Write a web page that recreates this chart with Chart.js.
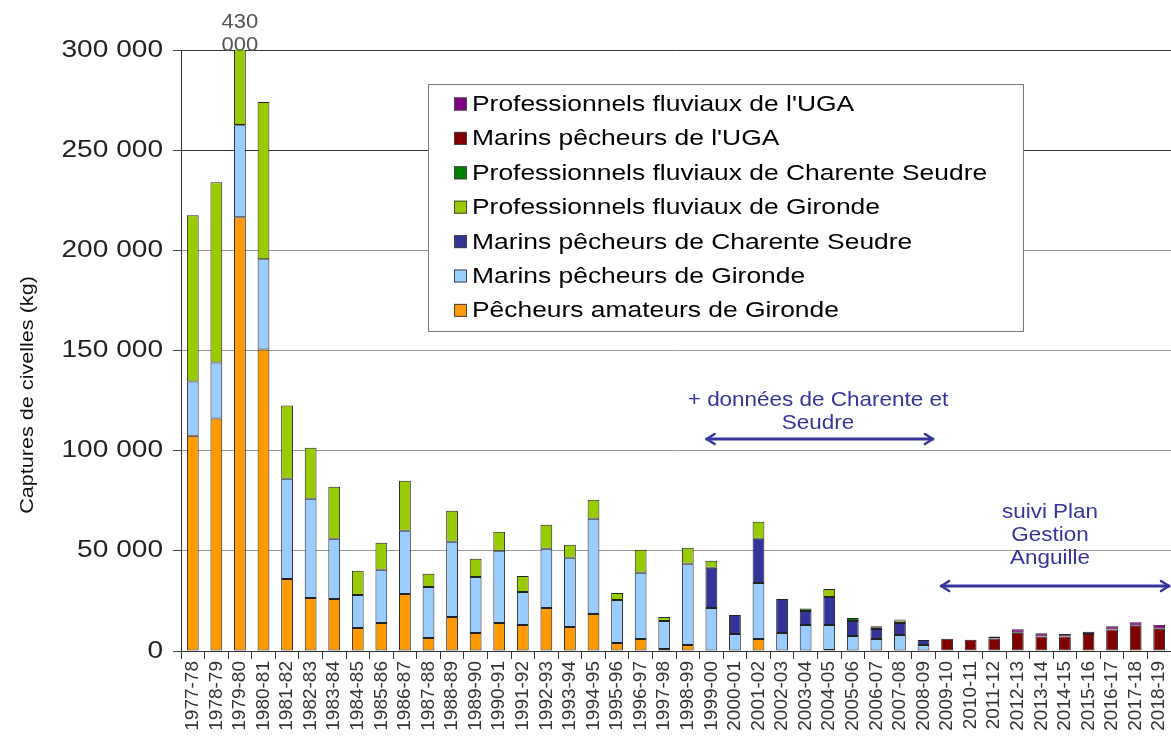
<!DOCTYPE html>
<html>
<head>
<meta charset="utf-8">
<script src="https://cdn.jsdelivr.net/npm/chart.js@4.4.0/dist/chart.umd.min.js"></script>
<style>
  html, body { margin: 0; padding: 0; background: #fff; }
  #wrap { width: 1171px; height: 742px; }
</style>
</head>
<body>
<div id="wrap"><canvas id="civelles" width="1171" height="742"></canvas></div>
<script>
// captures de civelles par saison (kg), empilées par catégorie de pêcheurs
const saisons = ['1977-78','1978-79','1979-80','1980-81','1981-82','1982-83','1983-84','1984-85','1985-86','1986-87',
  '1987-88','1988-89','1989-90','1990-91','1991-92','1992-93','1993-94','1994-95','1995-96','1996-97',
  '1997-98','1998-99','1999-00','2000-01','2001-02','2002-03','2003-04','2004-05','2005-06','2006-07',
  '2007-08','2008-09','2009-10','2010-11','2011-12','2012-13','2013-14','2014-15','2015-16','2016-17',
  '2017-18','2018-19'];

const amateursGironde = [107500,116000,216500,150500,36000,26500,26000,11500,14000,28500,
  6500,17000,9000,14000,13000,21500,12000,18500,4000,6000,
  1000,3000,0,0,6000,0,0,500,0,0,
  0,0,0,0,0,0,0,0,0,0,0,0];
const marinsGironde = [27000,28000,46000,45000,50000,49500,30000,16500,26500,31500,
  25500,37500,28000,36000,16500,29500,34500,47500,21500,33000,
  14000,40500,21500,8500,28000,9000,13000,12500,7500,6000,
  8000,3000,0,0,0,0,0,0,0,0,0,0];
const marinsCharente = [0,0,0,0,0,0,0,0,0,0,
  0,0,0,0,0,0,0,0,0,0,
  0,0,20000,9500,22000,17000,7000,14000,7500,5000,
  6000,2500,0,0,0,0,0,0,0,0,0,0];
const fluviauxGironde = [83000,90000,167500,78500,36500,25500,26000,12000,13500,25000,
  6500,15500,9000,9500,8000,12000,6500,9500,3500,11500,
  2000,8000,3500,0,8500,0,0,4000,0,800,
  1200,0,0,0,0,0,0,0,0,0,0,0];
const fluviauxCharente = [0,0,0,0,0,0,0,0,0,0,
  0,0,0,0,0,0,0,0,0,0,
  0,0,0,0,0,0,1200,0,1500,500,
  500,0,0,0,0,0,0,0,0,0,0,0];
const marinsUGA = [0,0,0,0,0,0,0,0,0,0,
  0,0,0,0,0,0,0,0,0,0,
  0,0,0,0,0,0,0,0,0,0,
  0,0,6100,5600,6300,9100,7300,7200,8500,10700,12600,11100];
const fluviauxUGA = [0,0,0,0,0,0,0,0,0,0,
  0,0,0,0,0,0,0,0,0,0,
  0,0,0,0,0,0,0,0,0,0,
  0,0,0,0,1000,1700,1500,1300,1100,1600,1700,2000];

const yMax = 300000;
const yStep = 50000;

const FONT = '"Liberation Sans", Arial, sans-serif';
const BLEU_TEXTE = '#34349c';

// zéro -> pas de segment
const seg = arr => arr.map(v => (v > 0 ? v : null));

const series = [
  { label: 'Pêcheurs amateurs de Gironde', data: amateursGironde, color: '#ff9900' },
  { label: 'Marins pêcheurs de Gironde', data: marinsGironde, color: '#99ccff' },
  { label: 'Marins pêcheurs de Charente Seudre', data: marinsCharente, color: '#333399' },
  { label: 'Professionnels fluviaux de Gironde', data: fluviauxGironde, color: '#99cc00' },
  { label: 'Professionnels fluviaux de Charente Seudre', data: fluviauxCharente, color: '#008000' },
  { label: "Marins pêcheurs de l'UGA", data: marinsUGA, color: '#800000' },
  { label: "Professionnels fluviaux de l'UGA", data: fluviauxUGA, color: '#800080' }
];

function espaceMilliers(v) {
  return String(v).replace(/\B(?=(\d{3})+(?!\d))/g, ' ');
}

// texte un peu élargi dans le sens de lecture
function texteLarge(ctx, txt, x, y, etirement, align) {
  ctx.save();
  ctx.translate(x, y);
  ctx.scale(etirement, 1);
  ctx.textAlign = align;
  ctx.fillText(txt, 0, 0);
  ctx.restore();
}

function fleche(ctx, x1, x2, y) {
  ctx.save();
  ctx.strokeStyle = BLEU_TEXTE;
  ctx.lineWidth = 3;
  ctx.lineCap = 'round';
  ctx.lineJoin = 'round';
  ctx.beginPath();
  ctx.moveTo(x1, y);
  ctx.lineTo(x2, y);
  ctx.stroke();
  ctx.lineWidth = 2.5;
  ctx.beginPath();
  ctx.moveTo(x1 + 8, y - 5);
  ctx.lineTo(x1, y);
  ctx.lineTo(x1 + 8, y + 5);
  ctx.moveTo(x2 - 8, y - 5);
  ctx.lineTo(x2, y);
  ctx.lineTo(x2 - 8, y + 5);
  ctx.stroke();
  ctx.restore();
}

const habillage = {
  id: 'habillage',
  afterDraw(chart) {
    const ctx = chart.ctx;
    const x = chart.scales.x;
    const y = chart.scales.y;
    const area = chart.chartArea;

    // graduations de l'axe vertical
    ctx.save();
    ctx.font = '24px ' + FONT;
    ctx.fillStyle = '#222';
    ctx.textBaseline = 'middle';
    y.ticks.forEach(t => {
      texteLarge(ctx, espaceMilliers(t.value), 163, y.getPixelForValue(t.value), 1.17, 'right');
    });
    ctx.restore();

    // titre de l'axe vertical
    ctx.save();
    ctx.translate(28, 395);
    ctx.rotate(-Math.PI / 2);
    ctx.font = '18px ' + FONT;
    ctx.fillStyle = '#111';
    ctx.textBaseline = 'middle';
    texteLarge(ctx, 'Captures de civelles (kg)', 0, 0, 1.2, 'center');
    ctx.restore();

    // valeur réelle de la barre qui dépasse l'échelle
    const iPic = 2;
    let total = 0;
    series.forEach(s => { total += s.data[iPic]; });
    const txt = espaceMilliers(total).split(' ');
    ctx.save();
    ctx.font = '20px ' + FONT;
    ctx.fillStyle = '#555';
    ctx.textBaseline = 'middle';
    texteLarge(ctx, txt[0], x.getPixelForValue(iPic), 22, 1.1, 'center');
    texteLarge(ctx, txt[1], x.getPixelForValue(iPic), 45, 1.1, 'center');
    ctx.restore();

    // légende encadrée
    const lx = 428, ly = 84, lw = 595, lh = 247;
    ctx.save();
    ctx.fillStyle = '#fff';
    ctx.fillRect(lx, ly, lw, lh);
    ctx.strokeStyle = '#777';
    ctx.lineWidth = 1;
    ctx.strokeRect(lx + 0.5, ly + 0.5, lw, lh);
    ctx.font = '22px ' + FONT;
    ctx.textBaseline = 'middle';
    const ordre = series.slice().reverse();
    ordre.forEach((s, k) => {
      const cy = 104 + k * 34.4;
      ctx.fillStyle = s.color;
      ctx.fillRect(454, cy - 6.5, 13, 13);
      ctx.strokeStyle = '#444';
      ctx.strokeRect(454.5, cy - 6, 12, 12);
      ctx.fillStyle = '#000';
      texteLarge(ctx, s.label, 472, cy + 1, 1.2, 'left');
    });
    ctx.restore();

    // annotations de période
    ctx.save();
    ctx.font = '21px ' + FONT;
    ctx.fillStyle = BLEU_TEXTE;
    ctx.textBaseline = 'middle';
    texteLarge(ctx, '+ données de Charente et', 818, 400, 1.07, 'center');
    texteLarge(ctx, 'Seudre', 818, 423, 1.07, 'center');
    texteLarge(ctx, 'suivi Plan', 1050, 512, 1.07, 'center');
    texteLarge(ctx, 'Gestion', 1050, 535, 1.07, 'center');
    texteLarge(ctx, 'Anguille', 1050, 558, 1.07, 'center');
    ctx.restore();

    fleche(ctx, x.getPixelForValue(21.8), x.getPixelForValue(31.4), 439);
    fleche(ctx, x.getPixelForValue(31.75), area.right - 2, 586);
  }
};

new Chart(document.getElementById('civelles'), {
  type: 'bar',
  data: {
    labels: saisons,
    datasets: series.map(s => ({
      label: s.label,
      data: seg(s.data),
      backgroundColor: s.color,
      borderColor: '#222',
      borderWidth: 1,
      borderSkipped: false,
      categoryPercentage: 1,
      barPercentage: 0.5
    }))
  },
  options: {
    responsive: false,
    animation: false,
    layout: { padding: { top: 50, right: 0, left: 0, bottom: 0 } },
    plugins: {
      legend: { display: false },
      tooltip: { enabled: false }
    },
    scales: {
      x: {
        stacked: true,
        afterFit(scale) {
          scale.height = 91;
          scale.paddingLeft = 0;
          scale.paddingRight = 0;
        },
        grid: {
          offset: true,
          drawOnChartArea: false,
          drawTicks: true,
          tickLength: 8,
          tickColor: '#333'
        },
        border: { display: true, color: '#333', width: 1 },
        ticks: {
          autoSkip: false,
          minRotation: 90,
          maxRotation: 90,
          padding: 2,
          color: '#333',
          font: { family: FONT, size: 19 }
        }
      },
      y: {
        stacked: true,
        min: 0,
        max: yMax,
        afterFit(scale) {
          scale.width = 181;
          scale.paddingTop = 0;
          scale.paddingBottom = 0;
        },
        grid: {
          color: ctx => (ctx.tick && ctx.tick.value >= 250000 ? '#333' : '#999'),
          drawTicks: true,
          tickLength: 8,
          tickColor: '#444'
        },
        border: { display: true, color: '#333', width: 1 },
        ticks: {
          display: false,
          stepSize: yStep
        }
      }
    }
  },
  plugins: [habillage]
});
</script>
</body>
</html>
